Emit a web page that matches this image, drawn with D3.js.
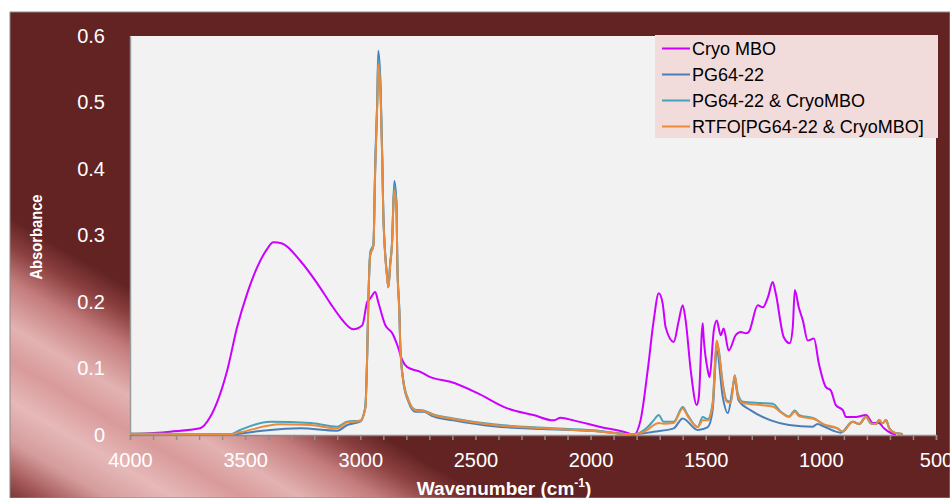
<!DOCTYPE html>
<html>
<head>
<meta charset="utf-8">
<script src="https://cdn.jsdelivr.net/npm/d3@7"></script>
<style>
  html, body { margin: 0; padding: 0; background: #ffffff; }
  svg { display: block; font-family: "Liberation Sans", Arial, sans-serif; }
</style>
</head>
<body>
<div id="chart"></div>
<script>
// spectra (wavenumber in cm-1, absorbance)
var cryoWn = [4000,3826,3696,3652,3578,3535,3491,3448,3404,3378,3339,3261,3187,3130,3087,3030,2991,2970,2957,2935,2922,2891,2861,2839,2817,2796,2739,2696,2609,2491,2361,2248,2161,2130,2074,1957,1839,1813,1783,1752,1726,1704,1687,1674,1639,1617,1600,1587,1565,1539,1530,1513,1509,1491,1483,1465,1452,1435,1422,1400,1370,1348,1326,1313,1274,1252,1230,1209,1196,1161,1135,1122,1113,1096,1078,1057,1030,1009,978,957,935,904,891,848,804,774,748,726,696,674];
var cryoAbs = [0.001,0.005,0.01,0.027,0.097,0.162,0.213,0.252,0.28,0.29,0.288,0.262,0.228,0.198,0.177,0.159,0.165,0.2,0.205,0.215,0.2,0.165,0.153,0.135,0.112,0.102,0.095,0.087,0.08,0.063,0.04,0.03,0.022,0.026,0.022,0.012,0.003,0.0,0.022,0.097,0.172,0.213,0.198,0.162,0.14,0.172,0.195,0.172,0.097,0.045,0.057,0.168,0.147,0.097,0.087,0.157,0.172,0.15,0.16,0.127,0.15,0.155,0.153,0.155,0.195,0.192,0.207,0.23,0.213,0.147,0.138,0.162,0.218,0.192,0.172,0.142,0.145,0.108,0.072,0.067,0.045,0.037,0.027,0.027,0.03,0.018,0.018,0.01,0.003,0.001];

var pgWn = [4000,3565,3435,3261,3100,3057,3000,2978,2970,2965,2957,2943,2935,2926,2922,2913,2904,2900,2883,2878,2870,2861,2857,2852,2843,2839,2830,2826,2813,2791,2761,2726,2683,2596,2422,2204,1987,1813,1726,1639,1600,1535,1491,1470,1452,1426,1404,1374,1357,1304,1217,1138,1035,1015,986,913,862,833,804,783,761,747,732,717,703,681,645];
var pgAbs = [0.002,0.001,0.006,0.01,0.0065,0.015,0.02,0.042,0.12,0.2,0.27,0.285,0.41,0.51,0.578,0.535,0.41,0.333,0.237,0.222,0.258,0.297,0.342,0.382,0.35,0.258,0.183,0.132,0.08,0.05,0.035,0.035,0.028,0.022,0.013,0.009,0.006,0.001,0.005,0.01,0.025,0.0075,0.012,0.037,0.127,0.057,0.033,0.082,0.052,0.037,0.022,0.015,0.0125,0.0165,0.0125,0.0035,0.02,0.0165,0.0275,0.0175,0.0165,0.0225,0.0175,0.0225,0.01,0.0035,0.0015];

var mixWn = [4000,3565,3522,3391,3217,3100,3057,3000,2978,2970,2965,2957,2943,2935,2926,2922,2913,2904,2900,2883,2878,2870,2861,2857,2852,2843,2839,2830,2826,2813,2791,2761,2726,2683,2596,2422,2204,1987,1813,1752,1726,1704,1683,1639,1600,1578,1535,1513,1491,1470,1452,1443,1426,1409,1391,1374,1361,1339,1261,1209,1174,1138,1113,1094,1029,986,928,906,862,833,804,783,761,747,732,717,703,681,645];
var mixAbs = [0.002,0.001,0.0075,0.02,0.018,0.0125,0.02,0.022,0.042,0.123,0.2,0.275,0.287,0.405,0.505,0.565,0.53,0.405,0.333,0.237,0.222,0.258,0.297,0.342,0.375,0.348,0.258,0.183,0.132,0.082,0.053,0.038,0.037,0.031,0.025,0.016,0.011,0.007,0.001,0.012,0.022,0.03,0.02,0.02,0.042,0.03,0.012,0.027,0.024,0.048,0.14,0.127,0.078,0.052,0.05,0.09,0.063,0.05,0.048,0.047,0.035,0.028,0.037,0.03,0.025,0.015,0.01,0.005,0.02,0.0165,0.0275,0.0175,0.0165,0.0225,0.0175,0.0225,0.01,0.0035,0.0015];

var rtfoWn = [4000,3565,3522,3348,3217,3100,3057,3000,2978,2970,2965,2957,2943,2935,2926,2922,2913,2904,2900,2883,2878,2870,2861,2857,2852,2843,2839,2830,2826,2813,2791,2761,2726,2683,2596,2422,2204,1987,1813,1752,1726,1704,1683,1639,1600,1578,1535,1513,1491,1470,1452,1443,1426,1409,1391,1374,1361,1339,1261,1209,1174,1138,1113,1094,1029,986,928,906,862,833,804,783,761,747,732,717,703,681,645];
var rtfoAbs = [0.002,0.001,0.004,0.016,0.015,0.01,0.019,0.021,0.04,0.12,0.2,0.27,0.285,0.4,0.5,0.558,0.52,0.4,0.33,0.235,0.222,0.255,0.295,0.34,0.368,0.34,0.255,0.18,0.13,0.08,0.052,0.037,0.036,0.03,0.024,0.015,0.01,0.006,0.001,0.008,0.015,0.018,0.017,0.018,0.04,0.028,0.012,0.022,0.022,0.045,0.142,0.125,0.075,0.05,0.048,0.09,0.06,0.048,0.045,0.043,0.034,0.027,0.035,0.028,0.024,0.016,0.01,0.005,0.02,0.0165,0.0275,0.0175,0.0165,0.0225,0.0175,0.0225,0.01,0.0035,0.0015];

var seriesNames = ["Cryo MBO", "PG64-22", "PG64-22 & CryoMBO", "RTFO[PG64-22 & CryoMBO]"];
var seriesColors = ["#cc00ff", "#4a7ebb", "#45a2b8", "#ec8a3c"];
var xTickValues = d3.range(500, 4001, 100);
var yTickValues = [0, 0.1, 0.2, 0.3, 0.4, 0.5, 0.6];

var width = 950, height = 498;
var plot = { left: 130, top: 36, right: 936, bottom: 435 };

var svg = d3.select("#chart").append("svg")
    .attr("width", width)
    .attr("height", height);

// background with the glossy highlight in the lower left corner
var defs = svg.append("defs");
var grad = defs.append("linearGradient")
    .attr("id", "bgGrad")
    .attr("gradientUnits", "userSpaceOnUse")
    .attr("x1", 0).attr("y1", 498)
    .attr("x2", 125).attr("y2", 285);
[[0, "#6e2c2c"], [0.1, "#a45858"], [0.22, "#d59c9c"], [0.36, "#e6b8b8"], [0.5, "#d99a9a"],
 [0.62, "#e3b2b2"], [0.78, "#c47c7c"], [0.9, "#8c4040"], [1, "#632323"]].forEach(function (s) {
    grad.append("stop").attr("offset", s[0]).attr("stop-color", s[1]);
});

svg.append("rect")
    .attr("x", 10).attr("y", 12)
    .attr("width", width - 10).attr("height", height - 12)
    .attr("fill", "url(#bgGrad)")
    .attr("stroke", "#8a8a8a")
    .attr("stroke-width", 1);

svg.append("rect")
    .attr("x", plot.left).attr("y", plot.top)
    .attr("width", plot.right - plot.left).attr("height", plot.bottom - plot.top)
    .attr("fill", "#f2f2f2");

var x = d3.scaleLinear().domain([4000, 500]).range([plot.left, plot.right]);
var y = d3.scaleLinear().domain([0, 0.6]).range([plot.bottom, plot.top]);

// y axis: labels only
var yAxis = svg.append("g")
    .attr("transform", "translate(" + plot.left + ",0)")
    .call(d3.axisLeft(y).tickValues(yTickValues).tickSize(0).tickPadding(25)
        .tickFormat(function (d) { return d === 0 ? "0" : d3.format(".1f")(d); }));
yAxis.select(".domain").attr("stroke", "#9a9a9a").attr("stroke-width", 1.5);
yAxis.selectAll("text").attr("fill", "#ffffff").attr("font-size", 20);

// x axis: ticks every 100, labels every 500
var xAxis = svg.append("g")
    .attr("transform", "translate(0," + plot.bottom + ")")
    .call(d3.axisBottom(x).tickValues(xTickValues).tickSize(5).tickPadding(13)
        .tickFormat(function (d) { return d % 500 === 0 ? d : ""; }));
xAxis.select(".domain").attr("stroke", "#8d8d8d").attr("stroke-width", 1.5);
xAxis.selectAll(".tick line").attr("stroke", "#8d8d8d").attr("stroke-width", 1.5);
xAxis.selectAll("text").attr("fill", "#ffffff").attr("font-size", 20);

// spectra
var line = d3.line()
    .x(function (d) { return x(d[0]); })
    .y(function (d) { return y(d[1]); })
    .curve(d3.curveMonotoneX);

var spectra = [
    d3.zip(cryoWn, cryoAbs),
    d3.zip(pgWn, pgAbs),
    d3.zip(mixWn, mixAbs),
    d3.zip(rtfoWn, rtfoAbs)
];

svg.append("g").selectAll("path")
    .data(spectra)
    .enter()
    .append("path")
    .attr("d", line)
    .attr("fill", "none")
    .attr("stroke", function (d, i) { return seriesColors[i]; })
    .attr("stroke-width", 2)
    .attr("stroke-linejoin", "round");

// legend
var legend = svg.append("g");
legend.append("rect")
    .attr("x", 655).attr("y", 35)
    .attr("width", 283).attr("height", 103)
    .attr("fill", "#f2dcdb");

var rows = legend.selectAll("g.row")
    .data(seriesNames)
    .enter()
    .append("g")
    .attr("class", "row")
    .attr("transform", function (d, i) { return "translate(0," + (48.5 + i * 26) + ")"; });
rows.append("line")
    .attr("x1", 662).attr("x2", 690)
    .attr("stroke", function (d, i) { return seriesColors[i]; })
    .attr("stroke-width", 2);
rows.append("text")
    .attr("x", 692)
    .attr("dy", "0.36em")
    .attr("font-size", 18)
    .attr("fill", "#000000")
    .text(function (d) { return d; });

// axis titles
svg.append("text")
    .attr("transform", "translate(42,237) rotate(-90)")
    .attr("text-anchor", "middle")
    .attr("font-size", 17)
    .attr("font-weight", "bold")
    .attr("fill", "#ffffff")
    .attr("textLength", 85)
    .attr("lengthAdjust", "spacingAndGlyphs")
    .text("Absorbance");

var xTitle = svg.append("text")
    .attr("x", 504).attr("y", 495)
    .attr("text-anchor", "middle")
    .attr("font-size", 19)
    .attr("font-weight", "bold")
    .attr("fill", "#ffffff");
xTitle.append("tspan").text("Wavenumber (cm");
xTitle.append("tspan").attr("font-size", 12).attr("dy", -8).text("-1");
xTitle.append("tspan").attr("dy", 8).text(")");
</script>
</body>
</html>
